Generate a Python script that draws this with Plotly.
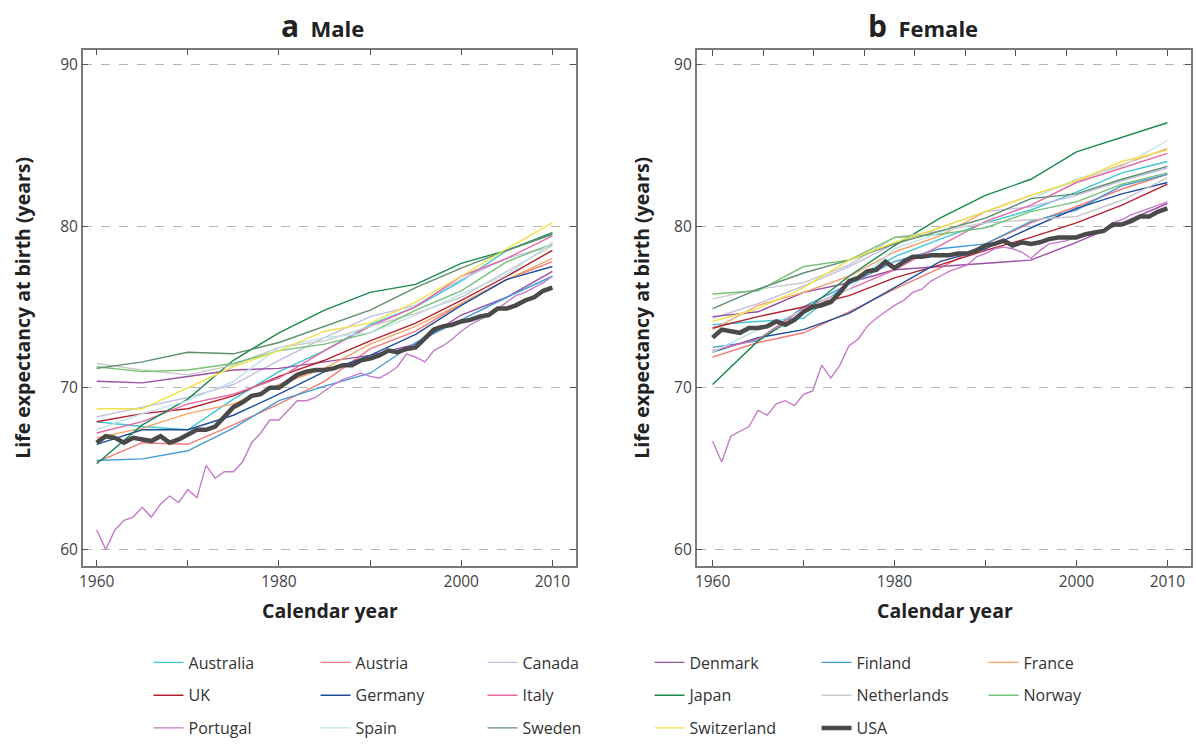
import plotly.graph_objects as go

# ---------------- data ----------------
years5 = [1960, 1965, 1970, 1975, 1980, 1985, 1990, 1995, 2000, 2005, 2010]
years1 = list(range(1960, 2011))

countries = ["Australia", "Austria", "Canada", "Denmark", "Finland", "France",
             "UK", "Germany", "Italy", "Japan", "Netherlands", "Norway",
             "Portugal", "Spain", "Sweden", "Switzerland", "USA"]

colors = ["#3fc6d6", "#f07a78", "#c4bde2", "#9b4fa6", "#3f9bd6", "#f5a468",
          "#b3202f", "#1f4f9c", "#e46aa6", "#1a8a4c", "#c9c9c9", "#74c276",
          "#c47ac8", "#bfe1ea", "#5e8f6e", "#f2e24a", "#4a4a4a"]

male = {
    "Australia":   [67.9, 67.6, 67.4, 69.3, 71.0, 72.3, 73.9, 75.0, 76.6, 78.5, 79.5],
    "Austria":     [65.4, 66.6, 66.5, 67.7, 69.0, 70.4, 72.4, 73.5, 75.2, 76.7, 77.8],
    "Canada":      [68.2, 68.8, 69.4, 70.2, 71.7, 73.1, 74.4, 75.1, 76.7, 78.0, 78.8],
    "Denmark":     [70.4, 70.3, 70.7, 71.1, 71.2, 71.6, 72.0, 72.7, 74.5, 75.6, 77.2],
    "Finland":     [65.5, 65.6, 66.1, 67.5, 69.2, 70.1, 70.9, 72.8, 74.2, 75.6, 76.9],
    "France":      [66.9, 67.5, 68.4, 69.0, 70.2, 71.2, 72.7, 73.8, 75.2, 76.7, 78.0],
    "UK":          [67.9, 68.4, 68.7, 69.5, 70.7, 71.7, 72.9, 74.0, 75.4, 76.9, 78.5],
    "Germany":     [66.5, 67.4, 67.4, 68.3, 69.6, 71.0, 72.0, 73.3, 75.1, 76.7, 77.5],
    "Italy":       [67.2, 67.9, 69.0, 69.6, 70.6, 72.3, 73.8, 75.0, 76.9, 78.0, 79.4],
    "Japan":       [65.3, 67.7, 69.3, 71.7, 73.4, 74.8, 75.9, 76.4, 77.7, 78.5, 79.6],
    "Netherlands": [71.5, 71.1, 70.8, 71.4, 72.5, 72.9, 73.8, 74.6, 75.6, 77.2, 78.8],
    "Norway":      [71.3, 71.0, 71.1, 71.5, 72.3, 72.7, 73.4, 74.8, 76.0, 77.8, 78.9],
    "Spain":       [67.4, 68.4, 69.2, 70.4, 72.5, 73.1, 73.4, 74.5, 75.8, 77.0, 79.0],
    "Sweden":      [71.2, 71.6, 72.2, 72.1, 72.8, 73.8, 74.8, 76.2, 77.4, 78.5, 79.5],
    "Switzerland": [68.7, 68.7, 70.0, 71.3, 72.3, 73.5, 74.0, 75.3, 76.9, 78.6, 80.2],
}
male_portugal = [61.2, 60.0, 61.2, 61.8, 62.0, 62.6, 62.0, 62.8, 63.3, 62.9,
                 63.7, 63.2, 65.2, 64.4, 64.8, 64.8, 65.4, 66.6, 67.2, 68.0,
                 68.0, 68.6, 69.2, 69.2, 69.4, 69.8, 70.2, 70.5, 70.7, 70.9,
                 70.7, 70.6, 70.9, 71.3, 72.1, 71.9, 71.6, 72.3, 72.6, 73.0,
                 73.5, 73.9, 74.2, 74.5, 74.9, 75.3, 75.7, 75.9, 76.2, 76.5, 76.9]
male_usa = [66.6, 67.0, 66.9, 66.6, 66.9, 66.8, 66.7, 67.0, 66.6, 66.8,
            67.1, 67.4, 67.4, 67.6, 68.2, 68.8, 69.1, 69.5, 69.6, 70.0,
            70.0, 70.4, 70.8, 71.0, 71.1, 71.1, 71.2, 71.4, 71.4, 71.7,
            71.8, 72.0, 72.3, 72.2, 72.4, 72.5, 73.1, 73.6, 73.8, 73.9,
            74.1, 74.2, 74.4, 74.5, 74.9, 74.9, 75.1, 75.4, 75.6, 76.0, 76.2]

female = {
    "Australia":   [73.9, 74.1, 74.3, 76.5, 78.1, 79.2, 80.2, 81.0, 82.1, 83.3, 84.0],
    "Austria":     [71.9, 72.8, 73.4, 74.7, 76.1, 77.4, 78.9, 80.2, 81.2, 82.3, 83.2],
    "Canada":      [74.3, 75.2, 76.3, 77.5, 78.9, 79.9, 80.9, 81.2, 81.9, 82.8, 83.6],
    "Denmark":     [74.4, 74.7, 75.9, 76.5, 77.3, 77.5, 77.7, 77.9, 79.0, 80.2, 81.4],
    "Finland":     [72.5, 72.9, 75.0, 76.4, 77.8, 78.6, 78.9, 80.3, 81.0, 82.5, 83.2],
    "France":      [73.6, 75.1, 75.9, 76.9, 78.4, 79.4, 80.9, 81.9, 82.8, 83.8, 84.8],
    "UK":          [73.7, 74.4, 75.0, 75.7, 76.8, 77.6, 78.5, 79.3, 80.2, 81.3, 82.6],
    "Germany":     [72.2, 73.1, 73.6, 74.6, 76.2, 77.8, 78.6, 79.9, 81.1, 82.0, 82.7],
    "Italy":       [72.3, 73.0, 74.9, 76.1, 77.3, 78.8, 80.3, 81.3, 82.7, 83.6, 84.5],
    "Japan":       [70.2, 72.9, 74.7, 76.9, 78.8, 80.5, 81.9, 82.9, 84.6, 85.5, 86.4],
    "Netherlands": [75.5, 76.1, 76.5, 77.6, 79.3, 79.7, 80.2, 80.4, 80.6, 81.6, 83.0],
    "Norway":      [75.8, 76.0, 77.5, 77.9, 79.3, 79.5, 79.9, 80.9, 81.5, 82.6, 83.3],
    "Spain":       [72.2, 73.6, 74.8, 76.1, 78.6, 79.6, 80.5, 81.7, 82.9, 83.7, 85.3],
    "Sweden":      [74.9, 76.1, 77.1, 77.9, 78.9, 79.7, 80.5, 81.7, 82.0, 82.9, 83.7],
    "Switzerland": [74.1, 74.9, 76.2, 77.9, 79.0, 79.9, 80.9, 81.9, 82.8, 84.0, 84.7],
}
female_portugal = [66.7, 65.4, 67.0, 67.3, 67.6, 68.6, 68.3, 69.0, 69.2, 68.9,
                   69.6, 69.8, 71.4, 70.6, 71.4, 72.6, 73.0, 73.8, 74.3, 74.7,
                   75.1, 75.4, 75.9, 76.1, 76.6, 76.9, 77.2, 77.4, 77.6, 78.1,
                   78.3, 78.6, 78.7, 78.6, 78.4, 78.0, 78.5, 78.9, 79.0, 79.1,
                   79.4, 79.5, 79.7, 79.7, 80.2, 80.4, 80.7, 80.9, 81.1, 81.3, 81.5]
female_usa = [73.1, 73.6, 73.5, 73.4, 73.7, 73.7, 73.8, 74.1, 73.9, 74.2,
              74.7, 75.0, 75.1, 75.3, 75.9, 76.6, 76.8, 77.2, 77.3, 77.8,
              77.4, 77.8, 78.1, 78.1, 78.2, 78.2, 78.2, 78.3, 78.3, 78.5,
              78.8, 78.9, 79.1, 78.8, 79.0, 78.9, 79.0, 79.2, 79.3, 79.3,
              79.3, 79.5, 79.6, 79.7, 80.1, 80.1, 80.3, 80.6, 80.6, 80.9, 81.1]

x_tickvals = [1960, 1970, 1980, 1990, 2000, 2010]
x_ticktext = ["1960", "", "1980", "", "2000", "2010"]
top_ticks_right = [1960, 1965.6, 1971.1, 1976.7, 1982.2, 1987.8, 1993.3, 1998.9, 2004.4, 2010]
y_tickvals = [60, 70, 80, 90]

# ---------------- figure ----------------
W, H = 1196, 745
fig = go.Figure()

legend_of = {}
for i, c in enumerate(countries):
    legend_of[c] = ["legend", "legend2", "legend3"][i // 6]


def series(data, portugal, usa, c):
    if c == "Portugal":
        return years1, portugal
    if c == "USA":
        return years1, usa
    return years5, data[c]


for panel, (data, por, usa, xa, ya) in enumerate([
        (male, male_portugal, male_usa, "x", "y"),
        (female, female_portugal, female_usa, "x2", "y2")]):
    for c, col in zip(countries, colors):
        xs, ys = series(data, por, usa, c)
        fig.add_trace(go.Scatter(
            x=xs, y=ys, mode="lines", name=c,
            line=dict(color=col, width=4.5 if c == "USA" else 1.4),
            xaxis=xa, yaxis=ya,
            showlegend=(panel == 0),
            legend=legend_of[c],
            hoverinfo="skip",
        ))

# invisible trace to hold the top tick axis of panel b
fig.add_trace(go.Scatter(x=[1960], y=[60], mode="markers", marker=dict(opacity=0),
                         xaxis="x3", yaxis="y2", showlegend=False, hoverinfo="skip"))

px_x = lambda p: p / W
px_y = lambda p: 1 - p / H

ydom = [px_y(570), px_y(50)]
axis_font = dict(family="Open Sans", size=15.5, color="#444")
line_col = "#7a7a7a"

common_x = dict(showline=True, linecolor=line_col, linewidth=1.5, ticks="inside",
                ticklen=6, tickcolor="#555", tickwidth=1.3, showgrid=False,
                zeroline=False, tickvals=x_tickvals, ticktext=x_ticktext,
                tickfont=axis_font)
common_y = dict(showline=True, linecolor=line_col, linewidth=1.5, ticks="inside",
                ticklen=6, tickcolor="#555", tickwidth=1.3, mirror="ticks",
                showgrid=True, gridcolor="#b5b5b5", griddash="dash", gridwidth=1.2,
                zeroline=False, tickvals=y_tickvals, range=[58.96, 90.92],
                tickfont=axis_font, domain=ydom)

fig.update_layout(
    width=W, height=H,
    margin=dict(l=0, r=0, t=0, b=0),
    paper_bgcolor="white", plot_bgcolor="white",
    xaxis=dict(common_x, domain=[px_x(79), px_x(574)], range=[1958.47, 2012.6],
               mirror="ticks", anchor="y"),
    yaxis=dict(common_y, anchor="x"),
    xaxis2=dict(common_x, domain=[px_x(695), px_x(1191)], range=[1958.25, 2012.6],
                mirror=True, anchor="y2"),
    yaxis2=dict(common_y, anchor="x2"),
    xaxis3=dict(overlaying="x2", anchor="y2", side="top", range=[1958.25, 2012.6],
                tickvals=top_ticks_right, ticks="inside", ticklen=6, tickcolor="#555",
                tickwidth=1.3, showticklabels=False, showline=False, showgrid=False,
                zeroline=False),
    showlegend=True,
)

leg_common = dict(orientation="h", xanchor="left", yanchor="middle",
                  entrywidth=122, entrywidthmode="pixels",
                  font=dict(family="Open Sans", size=16, color="#333"),
                  bgcolor="rgba(0,0,0,0)", borderwidth=0, itemclick=False,
                  itemdoubleclick=False, traceorder="normal")
fig.update_layout(
    legend=dict(leg_common, x=px_x(145), y=px_y(667)),
    legend2=dict(leg_common, x=px_x(145), y=px_y(700)),
    legend3=dict(leg_common, x=px_x(145), y=px_y(733)),
)

annos = [
    dict(text="<b><span style='font-size:30px'>a</span>  Male</b>", x=px_x(320), y=px_y(26), size=22),
    dict(text="<b><span style='font-size:30px'>b</span>  Female</b>", x=px_x(922), y=px_y(26), size=22),
    dict(text="<b>Calendar year</b>", x=px_x(327), y=px_y(615), size=19.5),
    dict(text="<b>Calendar year</b>", x=px_x(944), y=px_y(615), size=19.5),
    dict(text="<b>Life expectancy at birth (years)</b>", x=px_x(19), y=px_y(310), size=19.5, rot=-90),
    dict(text="<b>Life expectancy at birth (years)</b>", x=px_x(640), y=px_y(310), size=19.5, rot=-90),
]
for a in annos:
    fig.add_annotation(
        text=a["text"], x=a["x"], y=a["y"], xref="paper", yref="paper",
        xanchor="center", yanchor="middle", showarrow=False,
        textangle=a.get("rot", 0),
        font=dict(family="Open Sans", size=a.get("size", 18), color="#222"),
    )

fig.write_html("out.html", post_script="document.body.style.margin='0px';",
               config={"displayModeBar": False})
